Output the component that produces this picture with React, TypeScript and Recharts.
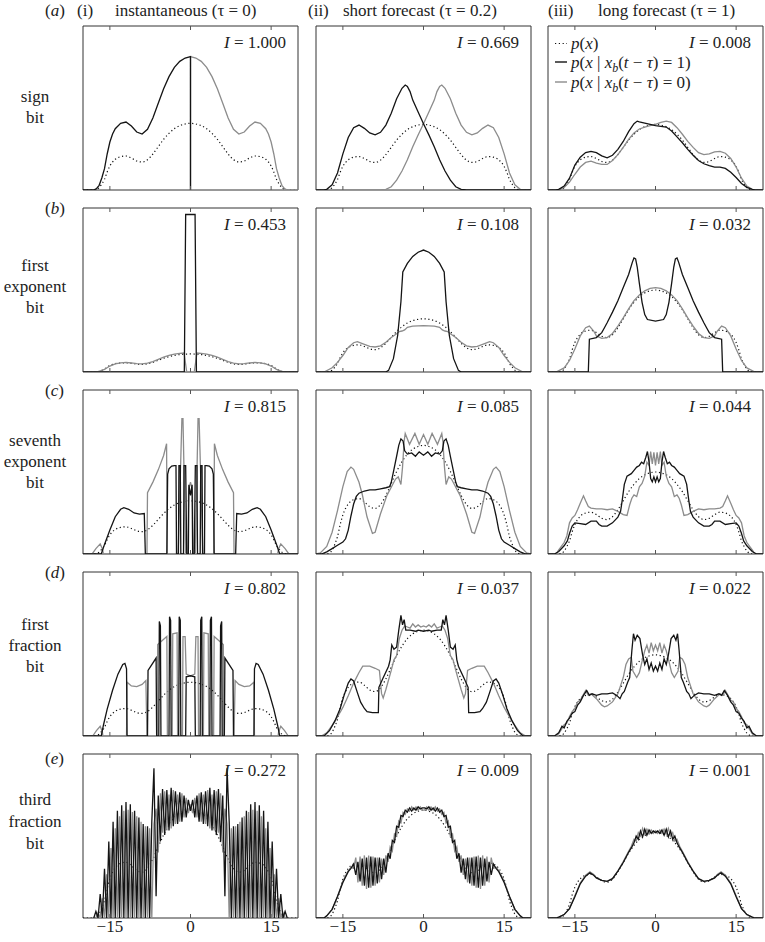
import { LineChart, Line, XAxis, YAxis, ReferenceArea } from "recharts";

type Pt = [number, number];

const SERIF = "Liberation Serif, Times New Roman, Times, DejaVu Serif, serif";
const xTicks = [-15, 0, 15];
const infoValues = [
  ["1.000", "0.669", "0.008"],
  ["0.453", "0.108", "0.032"],
  ["0.815", "0.085", "0.044"],
  ["0.802", "0.037", "0.022"],
  ["0.272", "0.009", "0.001"],
];
const columnTitles = ["instantaneous (τ = 0)", "short forecast (τ = 0.2)", "long forecast (τ = 1)"];
const columnNumbers = ["(i)", "(ii)", "(iii)"];
const rowLetters = ["a", "b", "c", "d", "e"];
const rowNames = [
  ["sign", "bit"],
  ["first", "exponent", "bit"],
  ["seventh", "exponent", "bit"],
  ["first", "fraction", "bit"],
  ["third", "fraction", "bit"],
];

// p(x), same in every panel (relative units, centre = 100)
const pDensity: Pt[] = [[-20,0],[-18,0],[-17.5,1],[-17,3.5],[-16.5,9],[-16,16],[-15.5,27],[-15,36],[-14.5,42],[-14,46],[-13,50],[-12,51],[-11,48],[-10,43.5],[-9,42],[-8,45.5],[-7,54],[-6,65],[-5,76],[-4,85],[-3,92],[-2,96.5],[-1,99],[0,100],[1,99],[2,96.5],[3,92],[4,85],[5,76],[6,65],[7,54],[8,45.5],[9,42],[10,43.5],[11,48],[12,51],[13,50],[14,46],[14.5,42],[15,36],[15.5,27],[16,16],[16.5,9],[17,3.5],[17.5,1],[18,0],[20,0]];

// (a) sign bit
const signInstOne: Pt[] = [[-20,0],[-18,0],[-17.5,2],[-17,7],[-16.5,18],[-16,32],[-15.5,54],[-15,72],[-14.5,84],[-14,92],[-13,100],[-12,102],[-11,96],[-10,87],[-9,84],[-8,91],[-7,108],[-6,130],[-5,152],[-4,170],[-3,184],[-2,193],[-1,198],[0,200],[0,0]];
const signInstZero: Pt[] = [[0,0],[0,200],[1,198],[2,193],[3,184],[4,170],[5,152],[6,130],[7,108],[8,91],[9,84],[10,87],[11,96],[12,102],[13,100],[14,92],[14.5,84],[15,72],[15.5,54],[16,32],[16.5,18],[17,7],[17.5,2],[18,0],[20,0]];
const signShortOne: Pt[] = [[-20,0],[-18.5,0],[-18,1],[-17,8],[-16,26],[-15,55],[-14,80],[-13,95],[-12,99],[-11,94],[-10,87],[-9,84],[-8,88],[-7,99],[-6,117],[-5,139],[-4,155],[-3.4,160],[-3,158],[-2.5,150],[-2,137],[-1,119],[0,101],[1,84],[2,66],[3,46],[4,29],[5,15],[6,5],[7,1],[8,0],[20,0]];
const signShortZero: Pt[] = [[-20,0],[-8,0],[-7,1],[-6,5],[-5,15],[-4,29],[-3,46],[-2,66],[-1,84],[0,101],[1,119],[2,137],[2.5,150],[3,158],[3.4,160],[4,155],[5,139],[6,117],[7,99],[8,88],[9,84],[10,87],[11,94],[12,99],[13,95],[14,80],[15,55],[16,26],[17,8],[18,1],[18.5,0],[20,0]];
const signLongOne: Pt[] = [[-20,0],[-18.5,0],[-18,1],[-17,6],[-16,18],[-15,38],[-14,50],[-13,57],[-12,59],[-11,57],[-10,52],[-9,49],[-8,53],[-7,62],[-6,74],[-5,89],[-4,101],[-3.4,105],[-3,104],[-2,102],[-1,100],[0,98],[1,97],[2,96],[3,90],[4,81],[5,72],[6,62],[7,53],[8,45],[9,40],[10,37],[11,35],[12,35],[13,33],[14,27],[15,19],[16,10],[17,4],[18,1],[18.5,0],[20,0]];
const signLongZero: Pt[] = [[-20,0],[-18.5,0],[-18,1],[-17,4],[-16,12],[-15,24],[-14,35],[-13,42],[-12,44],[-11,41],[-10,39],[-9,39],[-8,45],[-7,54],[-6,65],[-5,77],[-4,87],[-3,93],[-2,96],[-1,98],[0,100],[1,103],[2,105],[3,103],[4,95],[5,85],[6,74],[7,65],[8,57],[9,54],[10,55],[11,58],[12,59],[13,56],[14,48],[15,35],[16,18],[17,6],[18,1],[18.5,0],[20,0]];

// (b) first exponent bit
const exp1InstOne: Pt[] = [[-20,0],[-1.15,0],[-0.9,873],[0.85,873],[1.1,0],[20,0]];
const exp1InstZero: Pt[] = [[-20,0],[-18,0],[-17,4],[-16,15],[-15,33],[-14,45],[-13,51],[-12,53],[-11,50],[-10,46],[-9,45],[-8,49],[-7,58],[-6,70],[-5,82],[-4,92],[-3,99],[-2,103],[-1.2,105],[-0.7,0],[0.7,0],[1.2,105],[2,103],[3,99],[4,92],[5,82],[6,70],[7,58],[8,49],[9,45],[10,46],[11,50],[12,53],[13,51],[14,45],[15,33],[16,15],[17,4],[18,0],[20,0]];
const exp1ShortOne: Pt[] = [[-20,0],[-7,0],[-6.5,3],[-5.6,25],[-4.8,69],[-4.2,132],[-3.85,188],[-3,204],[-2,217],[-1,225],[0,229],[1,225],[2,217],[3,204],[3.85,188],[4.2,132],[4.8,69],[5.6,25],[6.5,3],[7,0],[20,0]];
const exp1ShortZero: Pt[] = [[-20,0],[-18.5,0],[-17,8],[-16,18],[-15,31],[-14,46],[-13,55],[-12.3,57],[-11,52],[-10,48],[-9,47],[-8,49],[-7,56],[-6,65],[-5,72],[-4.5,76],[-4,77],[-3.5,79],[-3,84],[-2,86],[0,87],[2,86],[3,84],[3.5,79],[4,77],[4.5,76],[5,72],[6,65],[7,56],[8,49],[9,47],[10,48],[11,52],[12.3,57],[13,55],[14,46],[15,31],[16,18],[17,8],[18.5,0],[20,0]];
const exp1LongOne: Pt[] = [[-20,0],[-12.5,0],[-12.3,40],[-11,42],[-10,48],[-9.5,54],[-9,60],[-8,73],[-7,87],[-6,103],[-5,119],[-4.3,134],[-4,139],[-3.7,138],[-3.4,128],[-3,108],[-2.5,85],[-2,70],[-1.5,64],[0,62],[1.5,64],[2,70],[2.5,85],[3,108],[3.4,128],[3.7,138],[4,139],[4.3,134],[5,119],[6,103],[7,87],[8,73],[9,60],[9.5,54],[10,48],[11,42],[12.3,40],[12.5,0],[20,0]];
const exp1LongZero: Pt[] = [[-20,0],[-18.5,0],[-17,5],[-16,14],[-15,28],[-14,44],[-13,54],[-12.3,56],[-11.5,50],[-11,44],[-10,41],[-9,42],[-8,47],[-7,56],[-6,66],[-5,77],[-4,87],[-3,94],[-2,99],[-1,102],[0,103],[1,102],[2,99],[3,94],[4,87],[5,77],[6,66],[7,56],[8,47],[9,42],[10,41],[11,44],[11.5,50],[12.3,56],[13,54],[14,44],[15,28],[16,14],[17,5],[18.5,0],[20,0]];

// (c) seventh exponent bit
const exp7InstOne: Pt[] = [[-20,0],[-16.6,0],[-16,18],[-15,45],[-14,70],[-13,84],[-12.4,87],[-11.5,84],[-10.5,77],[-9.5,75],[-8.6,76],[-8.4,0],[-4.4,0],[-4.25,150],[-4,160],[-3.5,165],[-3,166],[-2.7,166],[-2.6,0],[-2.25,0],[-2.15,166],[-1.9,166],[-1.8,0],[-1.3,0],[-1.2,166],[-0.9,166],[-0.7,0],[-0.4,0],[-0.3,130],[0,110],[0.3,130],[0.4,0],[0.7,0],[0.9,166],[1.2,166],[1.3,0],[1.8,0],[1.9,166],[2.15,166],[2.25,0],[2.6,0],[2.7,166],[3,166],[3.5,165],[4,160],[4.25,150],[4.4,0],[8.4,0],[8.6,76],[9.5,75],[10.5,77],[11.5,84],[12.4,87],[13,84],[14,70],[15,45],[16,18],[16.6,0],[20,0]];
const exp7InstZero: Pt[] = [[-20,0],[-18.3,0],[-17.6,10],[-16.8,19],[-16.4,10],[-16.2,0],[-8.1,0],[-8,115],[-7,135],[-6,158],[-5,185],[-4.45,207],[-4.35,0],[-2.3,0],[-1.6,254],[-1.4,254],[-0.9,0],[-0.5,0],[-0.35,120],[0,135],[0.35,120],[0.5,0],[0.9,0],[1.4,254],[1.6,254],[2.3,0],[4.35,0],[4.45,207],[5,185],[6,158],[7,135],[8,115],[8.1,0],[16.2,0],[16.4,10],[16.8,19],[17.6,10],[18.3,0],[20,0]];
const exp7ShortOne: Pt[] = [[-20,0],[-19,0],[-18,2],[-17,5],[-16,8],[-15,11],[-14.5,14],[-14,22],[-13.5,35],[-13,46],[-12.5,53],[-12,56],[-11,58],[-10,59],[-9,59],[-8,60],[-7,61],[-6.3,62],[-6,66],[-5.5,78],[-5,90],[-4.6,100],[-4.2,106],[-3.8,104],[-3.5,95],[-3,92],[-2.2,93],[-1.5,90],[-0.8,94],[0,91],[0.8,94],[1.5,90],[2.2,93],[3,92],[3.5,95],[3.8,104],[4.2,106],[4.6,100],[5,90],[5.5,78],[6,66],[6.3,62],[7,61],[8,60],[9,59],[10,59],[11,58],[12,56],[12.5,53],[13,46],[13.5,35],[14,22],[14.5,14],[15,11],[16,8],[17,5],[18,2],[19,0],[20,0]];
const exp7ShortZero: Pt[] = [[-20,0],[-19.2,1],[-18,7],[-17,20],[-16,40],[-15,62],[-14.2,76],[-13.5,80],[-13,78],[-12,66],[-11.4,55],[-10.5,34],[-9.5,19],[-9,20],[-8,37],[-6.8,54],[-5.2,69],[-4.7,71],[-4.2,64],[-3.9,80],[-3.6,104],[-3.4,111],[-2.6,101],[-1.6,111],[-0.8,101],[0,110],[0.8,101],[1.6,111],[2.6,101],[3.4,111],[3.6,104],[3.9,80],[4.2,64],[4.7,71],[5.2,69],[6.8,54],[8,37],[9,20],[9.5,19],[10.5,34],[11.4,55],[12,66],[13,78],[13.5,80],[14.2,76],[15,62],[16,40],[17,20],[18,7],[19.2,1],[20,0]];
const exp7LongOne: Pt[] = [[-20,0],[-18.8,0],[-18,3],[-17,10],[-16.4,16],[-16,25],[-15.5,34],[-15,38],[-14,37],[-13,36],[-12,40],[-11,40],[-10.5,36],[-10,34],[-9,34],[-8,38],[-7,45],[-6.5,52],[-6.2,65],[-5.8,85],[-5.3,95],[-4.5,98],[-4,102],[-3.5,106],[-3,108],[-2.6,112],[-2.2,110],[-1.8,118],[-1.5,125],[-1.2,112],[-0.9,92],[-0.6,88],[-0.3,94],[0,88],[0.3,94],[0.6,88],[0.9,92],[1.2,112],[1.5,125],[1.8,118],[2.2,110],[2.6,112],[3,108],[3.5,106],[4,102],[4.5,98],[5.3,95],[5.8,85],[6.2,65],[6.5,52],[7,45],[8,38],[9,34],[10,34],[10.5,36],[11,40],[12,40],[13,36],[14,37],[15,38],[15.5,34],[16,25],[16.4,16],[17,10],[18,3],[18.8,0],[20,0]];
const exp7LongZero: Pt[] = [[-20,0],[-18.5,0],[-18,5],[-17,14],[-16.5,22],[-16,38],[-15.5,44],[-15,47],[-14.5,54],[-14,62],[-13.4,71],[-13,65],[-12.5,58],[-12,56],[-11,55],[-10,55],[-9,54],[-8,55],[-7,52],[-6,48],[-5.3,47],[-4.8,60],[-4.4,68],[-4,72],[-3.5,70],[-3,82],[-2.5,86],[-2,95],[-1.6,112],[-1.2,108],[-0.9,125],[-0.6,110],[-0.3,124],[0,108],[0.3,124],[0.6,110],[0.9,125],[1.2,108],[1.6,112],[2,95],[2.5,86],[3,82],[3.5,70],[4,72],[4.4,68],[4.8,60],[5.3,47],[6,48],[7,52],[8,55],[9,54],[10,55],[11,55],[12,56],[12.5,58],[13,65],[13.4,71],[14,62],[14.5,54],[15,47],[15.5,44],[16,38],[16.5,22],[17,14],[18,5],[18.5,0],[20,0]];

// (d) first fraction bit
const frac1InstOne: Pt[] = [[-20,0],[-16.6,0],[-16.2,20],[-15.5,50],[-14.5,85],[-13.5,115],[-12.6,133],[-12.2,135],[-11.9,125],[-11.8,0],[-8,0],[-7.9,122],[-6.4,145],[-6.3,0],[-5.9,0],[-5.8,213],[-5.6,205],[-5.5,0],[-4,0],[-3.9,222],[-3.7,215],[-3.6,0],[-2.2,0],[-2.1,222],[-1.9,215],[-1.8,0],[-0.9,0],[-0.8,110],[0,112],[0.8,110],[0.9,0],[1.8,0],[1.9,215],[2.1,222],[2.2,0],[3.6,0],[3.7,215],[3.9,222],[4,0],[5.5,0],[5.6,205],[5.8,213],[5.9,0],[6.3,0],[6.4,145],[7.9,122],[8,0],[11.8,0],[11.9,125],[12.2,135],[12.6,133],[13.5,115],[14.5,85],[15.5,50],[16.2,20],[16.6,0],[20,0]];
const frac1InstZero: Pt[] = [[-20,0],[-18.2,0],[-17.5,10],[-16.8,18],[-16.4,8],[-16.3,0],[-11.9,0],[-11.8,100],[-11,93],[-10,92],[-9,96],[-8.3,103],[-8.1,0],[-6.2,0],[-6.1,170],[-5.2,178],[-4.4,185],[-4.3,0],[-3.4,0],[-3.3,190],[-2.5,192],[-2.4,0],[-1.5,0],[-1.4,185],[-1,185],[-0.8,115],[0,112],[0.8,115],[1,185],[1.4,185],[1.5,0],[2.4,0],[2.5,192],[3.3,190],[3.4,0],[4.3,0],[4.4,185],[5.2,178],[6.1,170],[6.2,0],[8.1,0],[8.3,103],[9,96],[10,92],[11,93],[11.8,100],[11.9,0],[16.3,0],[16.4,8],[16.8,18],[17.5,10],[18.2,0],[20,0]];
const frac1ShortOne: Pt[] = [[-20,0],[-18.5,0],[-17.5,5],[-16.5,14],[-15.5,26],[-14.8,38],[-14,50],[-13.5,54],[-13,52],[-12.3,41],[-11.7,32],[-11,26],[-10.5,23],[-9.5,22],[-8.4,22],[-8.3,46],[-7.5,55],[-6.5,66],[-6.2,72],[-5.9,86],[-5.5,82],[-5,84],[-4.6,100],[-4.2,114],[-3.9,105],[-3.6,110],[-3.3,100],[-2.5,100],[-1.5,99],[-1,100],[0,99],[1,100],[1.5,99],[2.5,100],[3.3,100],[3.6,110],[3.9,105],[4.2,114],[4.6,100],[5,84],[5.5,82],[5.9,86],[6.2,72],[6.5,66],[7.5,55],[8.3,46],[8.4,22],[9.5,22],[10.5,23],[11,26],[11.7,32],[12.3,41],[13,52],[13.5,54],[14,50],[14.8,38],[15.5,26],[16.5,14],[17.5,5],[18.5,0],[20,0]];
const frac1ShortZero: Pt[] = [[-20,0],[-19,0],[-18,3],[-17,10],[-16,18],[-15,27],[-14,38],[-13,50],[-12,60],[-11.3,66],[-10,66],[-9,64],[-8.2,62],[-7.8,40],[-7.5,36],[-7,44],[-6,62],[-5.5,72],[-5,76],[-4.5,92],[-4,100],[-3.5,104],[-3,103],[-2.5,102],[-2,106],[-1.5,103],[-1,105],[-0.5,103],[0,104],[0.5,103],[1,105],[1.5,103],[2,106],[2.5,102],[3,103],[3.5,104],[4,100],[4.5,92],[5,76],[5.5,72],[6,62],[7,44],[7.5,36],[7.8,40],[8.2,62],[9,64],[10,66],[11.3,66],[12,60],[13,50],[14,38],[15,27],[16,18],[17,10],[18,3],[19,0],[20,0]];
const frac1LongOne: Pt[] = [[-20,0],[-18.8,0],[-18,4],[-17.4,12],[-17,10],[-16.5,18],[-16,22],[-15.5,28],[-15,30],[-14.5,38],[-14,42],[-13.4,50],[-12.8,56],[-12.3,50],[-11.8,52],[-11,50],[-10,52],[-9,52],[-8,53],[-7.2,50],[-6.6,46],[-6.2,52],[-5.8,55],[-5.2,66],[-4.8,72],[-4.4,105],[-4.1,126],[-3.8,118],[-3.4,124],[-2.9,120],[-2.4,100],[-2,88],[-1.6,95],[-1.2,82],[-0.8,90],[-0.4,80],[0,86],[0.4,80],[0.8,90],[1.2,82],[1.6,95],[2,88],[2.4,100],[2.9,120],[3.4,124],[3.8,118],[4.1,126],[4.4,105],[4.8,72],[5.2,66],[5.8,55],[6.2,52],[6.6,46],[7.2,50],[8,53],[9,52],[10,52],[11,50],[11.8,52],[12.3,50],[12.8,56],[13.4,50],[14,42],[14.5,38],[15,30],[15.5,28],[16,22],[16.5,18],[17,10],[17.4,12],[18,4],[18.8,0],[20,0]];
const frac1LongZero: Pt[] = [[-20,0],[-18.5,0],[-18,3],[-17.5,8],[-17,14],[-16.5,16],[-16,24],[-15.5,30],[-15,34],[-14.5,42],[-14,44],[-13.5,50],[-13,56],[-12.5,50],[-12,52],[-11,46],[-10,38],[-9.5,36],[-9,37],[-8,42],[-7,52],[-6.5,62],[-6,72],[-5.5,88],[-5,95],[-4.5,97],[-4.2,80],[-3.5,72],[-3,78],[-2.5,92],[-2,105],[-1.6,112],[-1.2,102],[-0.8,115],[-0.4,105],[0,112],[0.4,105],[0.8,115],[1.2,102],[1.6,112],[2,105],[2.5,92],[3,78],[3.5,72],[4.2,80],[4.5,97],[5,95],[5.5,88],[6,72],[6.5,62],[7,52],[8,42],[9,37],[9.5,36],[10,38],[11,46],[12,52],[12.5,50],[13,56],[13.5,50],[14,44],[14.5,42],[15,34],[15.5,30],[16,24],[16.5,16],[17,14],[17.5,8],[18,3],[18.5,0],[20,0]];

// (e) third fraction bit
const frac3InstOne: Pt[] = [[-18,0],[-17.6,6],[-17.2,0],[-16.8,22],[-16.4,0],[-16,45],[-15.6,0],[-15.2,70],[-14.8,0],[-14.4,88],[-14,0],[-13.6,98],[-13.2,0],[-12.8,103],[-12.4,0],[-12,106],[-11.6,0],[-11.2,104],[-10.8,0],[-10.4,98],[-10,0],[-9.6,92],[-9.2,0],[-8.8,86],[-8.4,0],[-8,84],[-7.6,0],[-7.2,88],[-6.8,137],[-6.4,20],[-6,112],[-5.6,70],[-5.2,118],[-4.8,76],[-4.4,117],[-4,80],[-3.6,119],[-3.2,84],[-2.8,116],[-2.4,86],[-2,115],[-1.6,88],[-1.2,112],[-0.8,92],[-0.4,108],[0,98],[0.4,108],[0.8,92],[1.2,112],[1.6,88],[2,115],[2.4,86],[2.8,116],[3.2,84],[3.6,119],[4,80],[4.4,117],[4.8,76],[5.2,118],[5.6,70],[6,112],[6.4,20],[6.8,137],[7.2,88],[7.6,0],[8,84],[8.4,0],[8.8,86],[9.2,0],[9.6,92],[10,0],[10.4,98],[10.8,0],[11.2,104],[11.6,0],[12,106],[12.4,0],[12.8,103],[13.2,0],[13.6,98],[14,0],[14.4,88],[14.8,0],[15.2,70],[15.6,0],[16,45],[16.4,0],[16.8,22],[17.2,0],[17.6,6],[18,0]];
const frac3InstZero: Pt[] = [[-18,0],[-17.6,0],[-17.2,5],[-16.8,0],[-16.4,18],[-16,0],[-15.6,40],[-15.2,0],[-14.8,64],[-14.4,0],[-14,82],[-13.6,0],[-13.2,93],[-12.8,0],[-12.4,98],[-12,0],[-11.6,99],[-11.2,0],[-10.8,97],[-10.4,0],[-10,93],[-9.6,0],[-9.2,88],[-8.8,0],[-8.4,84],[-8,0],[-7.6,82],[-7.2,0],[-6.8,86],[-6.4,100],[-6,60],[-5.6,114],[-5.2,78],[-4.8,116],[-4.4,80],[-4,113],[-3.6,82],[-3.2,117],[-2.8,86],[-2.4,113],[-2,88],[-1.6,114],[-1.2,92],[-0.8,110],[-0.4,96],[0,104],[0.4,96],[0.8,110],[1.2,92],[1.6,114],[2,88],[2.4,113],[2.8,86],[3.2,117],[3.6,82],[4,113],[4.4,80],[4.8,116],[5.2,78],[5.6,114],[6,60],[6.4,100],[6.8,86],[7.2,0],[7.6,82],[8,0],[8.4,84],[8.8,0],[9.2,88],[9.6,0],[10,93],[10.4,0],[10.8,97],[11.2,0],[11.6,99],[12,0],[12.4,98],[12.8,0],[13.2,93],[13.6,0],[14,82],[14.4,0],[14.8,64],[15.2,0],[15.6,40],[16,0],[16.4,18],[16.8,0],[17.2,5],[17.6,0],[18,0]];
const frac3ShortOne: Pt[] = [[-20,0],[-18.5,0],[-18,2],[-17,8],[-16,20],[-15,33],[-14,43],[-13.5,46],[-13,50],[-12.6,40],[-12.2,52],[-11.8,34],[-11.4,55],[-11,30],[-10.6,56],[-10.2,28],[-9.8,57],[-9.4,30],[-9,56],[-8.6,32],[-8.2,56],[-7.8,36],[-7.4,55],[-7,42],[-6.6,60],[-6.2,55],[-5.8,72],[-5.4,70],[-5,85],[-4.6,84],[-4.2,95],[-3.8,94],[-3.4,100],[-3,98],[-2.6,102],[-2.2,99],[-1.8,102],[-1.4,100],[-1,103],[-0.6,101],[-0.2,102],[0.2,102],[0.6,101],[1,103],[1.4,100],[1.8,102],[2.2,99],[2.6,102],[3,98],[3.4,100],[3.8,94],[4.2,95],[4.6,84],[5,85],[5.4,70],[5.8,72],[6.2,55],[6.6,60],[7,42],[7.4,55],[7.8,36],[8.2,56],[8.6,32],[9,56],[9.4,30],[9.8,57],[10.2,28],[10.6,56],[11,30],[11.4,55],[11.8,34],[12.2,52],[12.6,40],[13,50],[13.5,46],[14,43],[15,33],[16,20],[17,8],[18,2],[18.5,0],[20,0]];
const frac3ShortZero: Pt[] = [[-20,0],[-18.5,0],[-18,2],[-17,8],[-16,20],[-15,34],[-14,44],[-13.5,47],[-13,46],[-12.6,56],[-12.2,33],[-11.8,57],[-11.4,30],[-11,58],[-10.6,27],[-10.2,58],[-9.8,28],[-9.4,57],[-9,30],[-8.6,56],[-8.2,33],[-7.8,55],[-7.4,40],[-7,58],[-6.6,52],[-6.2,66],[-5.8,62],[-5.4,78],[-5,76],[-4.6,90],[-4.2,88],[-3.8,98],[-3.4,96],[-3,101],[-2.6,99],[-2.2,103],[-1.8,100],[-1.4,103],[-1,100],[-0.6,103],[-0.2,100],[0.2,100],[0.6,103],[1,100],[1.4,103],[1.8,100],[2.2,103],[2.6,99],[3,101],[3.4,96],[3.8,98],[4.2,88],[4.6,90],[5,76],[5.4,78],[5.8,62],[6.2,66],[6.6,52],[7,58],[7.4,40],[7.8,55],[8.2,33],[8.6,56],[9,30],[9.4,57],[9.8,28],[10.2,58],[10.6,27],[11,58],[11.4,30],[11.8,57],[12.2,33],[12.6,56],[13,46],[13.5,47],[14,44],[15,34],[16,20],[17,8],[18,2],[18.5,0],[20,0]];
const frac3LongOne: Pt[] = [[-20,0],[-18.5,0],[-18,1],[-17,4],[-16,11],[-15,25],[-14,40],[-13,49],[-12.2,53],[-11.5,50],[-11,47],[-10,44],[-9,43],[-8,46],[-7,55],[-6,65],[-5,77],[-4.5,82],[-4,88],[-3.6,96],[-3.2,92],[-2.8,102],[-2.4,95],[-2,104],[-1.6,97],[-1.2,103],[-0.8,99],[-0.4,102],[0,100],[0.4,102],[0.8,99],[1.2,103],[1.6,97],[2,104],[2.4,95],[2.8,102],[3.2,92],[3.6,96],[4,88],[4.5,82],[5,77],[6,65],[7,55],[8,46],[9,43],[10,44],[11,47],[11.5,50],[12.2,53],[13,49],[14,40],[15,25],[16,11],[17,4],[18,1],[18.5,0],[20,0]];
const frac3LongZero: Pt[] = [[-20,0],[-18.5,0],[-18,1],[-17,4],[-16,11],[-15,26],[-14,41],[-13,50],[-12.2,54],[-11.5,51],[-11,47],[-10,44],[-9,43],[-8,46],[-7,55],[-6,66],[-5,78],[-4.5,84],[-4,92],[-3.6,90],[-3.2,100],[-2.8,96],[-2.4,105],[-2,98],[-1.6,104],[-1.2,99],[-0.8,103],[-0.4,99],[0,102],[0.4,99],[0.8,103],[1.2,99],[1.6,104],[2,98],[2.4,105],[2.8,96],[3.2,100],[3.6,90],[4,92],[4.5,84],[5,78],[6,66],[7,55],[8,46],[9,43],[10,44],[11,47],[11.5,51],[12.2,54],[13,50],[14,41],[15,26],[16,11],[17,4],[18,1],[18.5,0],[20,0]];

// layout
const colLeft = [83, 316, 548];
const rowTop = [26, 208, 390, 572, 754];
const PW = 215;
const PH = 164;

const seriesGrid: [Pt[], Pt[], number][][] = [
  [[signInstOne, signInstZero, 246], [signShortOne, signShortZero, 250], [signLongOne, signLongZero, 250]],
  [[exp1InstOne, exp1InstZero, 909], [exp1ShortOne, exp1ShortZero, 308], [exp1LongOne, exp1LongZero, 200]],
  [[exp7InstOne, exp7InstZero, 308], [exp7ShortOne, exp7ShortZero, 151], [exp7LongOne, exp7LongZero, 200]],
  [[frac1InstOne, frac1InstZero, 305], [frac1ShortOne, frac1ShortZero, 155], [frac1LongOne, frac1LongZero, 202]],
  [[frac3InstOne, frac3InstZero, 150], [frac3ShortOne, frac3ShortZero, 152], [frac3LongOne, frac3LongZero, 192]],
];

const rowNameBaselines = [
  [102, 123],
  [271, 292, 313],
  [446, 467, 488],
  [630, 651, 672],
  [805, 827, 849],
];
const rowLetterBaselines = [16, 214, 396, 578, 764];

const toRows = (pts: Pt[]) => pts.map(([x, y]) => ({ x, y }));
const fmtTick = (v: number) => (v < 0 ? `\u2212${Math.abs(v)}` : `${v}`);

const textStyle = { fontFamily: SERIF, fontSize: 17, fill: "#222" };
const italic = { fontStyle: "italic" as const };

function AxisTick(props: any) {
  const { x, y, payload, showLabel } = props;
  return (
    <g>
      <line x1={x} y1={y} x2={x} y2={y - 4} stroke="#555" strokeWidth={1} />
      <line x1={x} y1={y - PH} x2={x} y2={y - PH + 4} stroke="#555" strokeWidth={1} />
      {showLabel && (
        <text x={x} y={y + 14} textAnchor="middle" style={textStyle}>
          {fmtTick(payload.value)}
        </text>
      )}
    </g>
  );
}

function Panel({ one, zero, yMax, bottom }: { one: Pt[]; zero: Pt[]; yMax: number; bottom: boolean }) {
  const axisH = bottom ? 26 : 1;
  return (
    <LineChart width={PW + 4} height={PH + 3 + axisH} margin={{ top: 2, right: 2, bottom: 1, left: 2 }}>
      <XAxis
        type="number"
        dataKey="x"
        domain={[-20, 20]}
        ticks={xTicks}
        allowDataOverflow
        interval={0}
        height={axisH}
        tickSize={0}
        tickMargin={0}
        tickLine={false}
        axisLine={false}
        tick={(p: any) => <AxisTick {...p} showLabel={bottom} />}
      />
      <YAxis hide type="number" domain={[0, yMax]} allowDataOverflow />
      <ReferenceArea x1={-20} x2={20} y1={0} y2={yMax} fill="none" stroke="#333" strokeWidth={1} />
      <Line data={toRows(pDensity)} dataKey="y" type="monotone" stroke="#111" strokeWidth={1.2} strokeDasharray="1.2 2.6" dot={false} activeDot={false} isAnimationActive={false} />
      <Line data={toRows(zero)} dataKey="y" type="linear" stroke="#8c8c8c" strokeWidth={1.3} dot={false} activeDot={false} isAnimationActive={false} />
      <Line data={toRows(one)} dataKey="y" type="linear" stroke="#141414" strokeWidth={1.3} dot={false} activeDot={false} isAnimationActive={false} />
    </LineChart>
  );
}

function CondLabel({ y, bit }: { y: number; bit: string }) {
  return (
    <text x={571} y={y} style={textStyle}>
      <tspan style={italic}>p</tspan>(<tspan style={italic}>x</tspan> | <tspan style={italic}>x</tspan>
      <tspan style={{ ...italic, fontSize: 12 }} dy={4}>b</tspan>
      <tspan dy={-4}>(</tspan>
      <tspan style={italic}>t</tspan> − <tspan style={italic}>τ</tspan>) = {bit})
    </text>
  );
}

export default function App() {
  return (
    <div style={{ position: "absolute", left: 0, top: 0, width: 765, height: 942, background: "#fff", fontFamily: SERIF }}>
      {seriesGrid.map((row, r) =>
        row.map(([one, zero, yMax], c) => (
          <div key={`${r}-${c}`} style={{ position: "absolute", left: colLeft[c] - 2, top: rowTop[r] - 2 }}>
            <Panel one={one} zero={zero} yMax={yMax} bottom={r === 4} />
          </div>
        ))
      )}
      <svg width={765} height={942} style={{ position: "absolute", left: 0, top: 0, pointerEvents: "none" }}>
        <text x={77} y={16} style={textStyle}>{columnNumbers[0]}</text>
        <text x={115} y={16} style={textStyle}>{columnTitles[0]}</text>
        <text x={308} y={16} style={textStyle}>{columnNumbers[1]}</text>
        <text x={343} y={16} style={textStyle}>{columnTitles[1]}</text>
        <text x={548} y={16} style={textStyle}>{columnNumbers[2]}</text>
        <text x={598} y={16} style={textStyle}>{columnTitles[2]}</text>
        {rowLetters.map((t, r) => (
          <text key={t} x={45} y={rowLetterBaselines[r]} style={textStyle}>
            (<tspan style={italic}>{t}</tspan>)
          </text>
        ))}
        {rowNames.map((lines, r) =>
          lines.map((ln, i) => (
            <text key={`${r}-${i}`} x={35} y={rowNameBaselines[r][i]} textAnchor="middle" style={textStyle}>
              {ln}
            </text>
          ))
        )}
        {infoValues.map((row, r) =>
          row.map((v, c) => (
            <text key={`i${r}-${c}`} x={colLeft[c] + PW - 12} y={rowTop[r] + 22} textAnchor="end" style={textStyle}>
              <tspan style={italic}>I</tspan> = {v}
            </text>
          ))
        )}
        <line x1={555} y1={43.5} x2={567} y2={43.5} stroke="#111" strokeWidth={1.2} strokeDasharray="1.2 2.6" />
        <line x1={555} y1={62} x2={567} y2={62} stroke="#141414" strokeWidth={1.4} />
        <line x1={555} y1={82} x2={567} y2={82} stroke="#8c8c8c" strokeWidth={1.4} />
        <text x={571} y={49} style={textStyle}>
          <tspan style={italic}>p</tspan>(<tspan style={italic}>x</tspan>)
        </text>
        <CondLabel y={68} bit="1" />
        <CondLabel y={88} bit="0" />
      </svg>
    </div>
  );
}
